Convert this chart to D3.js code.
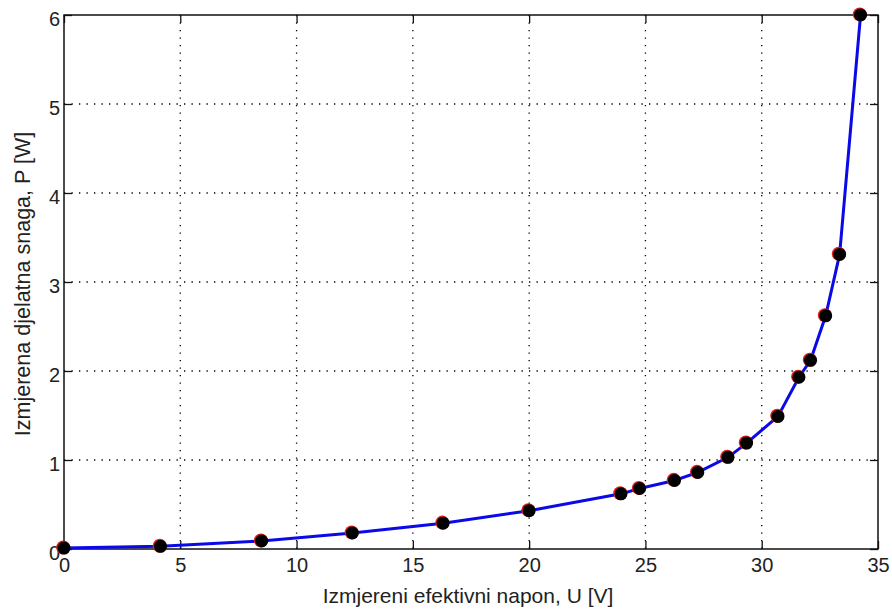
<!DOCTYPE html>
<html>
<head>
<meta charset="utf-8">
<script src="https://cdn.jsdelivr.net/npm/d3@7"></script>
<style>
  html, body { margin: 0; padding: 0; background: #fff; overflow: hidden; }
  svg { display: block; }
  text { font-family: "Liberation Sans", Arial, sans-serif; fill: #222; }
</style>
</head>
<body>
<svg id="chart" width="892" height="615"></svg>
<script>
// measured voltage U [V] and active power P [W]
const napon = [0, 4.15, 8.5, 12.4, 16.3, 20.0, 23.95, 24.75, 26.25, 27.25, 28.55, 29.35, 30.7, 31.6, 32.1, 32.75, 33.35, 34.25];
const snaga = [0.01, 0.03, 0.09, 0.18, 0.29, 0.43, 0.62, 0.68, 0.77, 0.86, 1.03, 1.19, 1.49, 1.93, 2.12, 2.62, 3.31, 6.0];

const xTicks = [0, 5, 10, 15, 20, 25, 30, 35];
const yTicks = [0, 1, 2, 3, 4, 5, 6];

const xLabel = 'Izmjereni efektivni napon, U [V]';
const yLabel = 'Izmjerena djelatna snaga, P [W]';

const svg = d3.select('#chart');
const margin = {top: 15, right: 14, bottom: 66, left: 64};
const innerWidth = 892 - margin.left - margin.right;
const innerHeight = 615 - margin.top - margin.bottom;

const data = napon.map((u, i) => ({u: u, p: snaga[i]}));

const xScale = d3.scaleLinear().domain([0, 35]).range([0, innerWidth]);
const yScale = d3.scaleLinear().domain([0, 6]).range([innerHeight, 0]);

const g = svg.append('g')
    .attr('transform', `translate(${margin.left},${margin.top})`);

// dotted grid
g.append('g').selectAll('line')
    .data(xTicks.slice(1, -1))
    .join('line')
    .attr('x1', d => xScale(d)).attr('x2', d => xScale(d))
    .attr('y1', 0).attr('y2', innerHeight)
    .attr('stroke', '#000').attr('stroke-width', 1.3)
    .attr('stroke-dasharray', '1.3,6.2');

g.append('g').selectAll('line')
    .data(yTicks.slice(1, -1))
    .join('line')
    .attr('y1', d => yScale(d)).attr('y2', d => yScale(d))
    .attr('x1', 0).attr('x2', innerWidth)
    .attr('stroke', '#000').attr('stroke-width', 1.3)
    .attr('stroke-dasharray', '1.3,6.2');

// axes with inward ticks
const tickLen = 8;
const fmt = d3.format('d');
const xAxisG = g.append('g')
    .attr('transform', `translate(0,${innerHeight})`)
    .call(d3.axisBottom(xScale).tickValues(xTicks).tickFormat(fmt)
        .tickSizeInner(-tickLen).tickSizeOuter(0).tickPadding(tickLen + 1));
const yAxisG = g.append('g')
    .call(d3.axisLeft(yScale).tickValues(yTicks).tickFormat(fmt)
        .tickSizeInner(-tickLen).tickSizeOuter(0).tickPadding(4));
g.append('g')
    .call(d3.axisTop(xScale).tickValues(xTicks).tickSizeInner(-tickLen).tickSizeOuter(0).tickFormat(''));
g.append('g')
    .attr('transform', `translate(${innerWidth},0)`)
    .call(d3.axisRight(yScale).tickValues(yTicks).tickSizeInner(-tickLen).tickSizeOuter(0).tickFormat(''));

g.selectAll('.domain').remove();
g.selectAll('.tick line').attr('stroke', '#111').attr('stroke-width', 1.3);
xAxisG.selectAll('text').style('font-size', '20px').attr('fill', '#222');
yAxisG.selectAll('text').style('font-size', '20px').attr('fill', '#222').attr('dy', '0.5em');

// box
g.append('rect')
    .attr('width', innerWidth).attr('height', innerHeight)
    .attr('fill', 'none').attr('stroke', '#111').attr('stroke-width', 1.5);

// line
const line = d3.line().x(d => xScale(d.u)).y(d => yScale(d.p));
g.append('path')
    .datum(data)
    .attr('d', line)
    .attr('fill', 'none')
    .attr('stroke', '#0a0ae8')
    .attr('stroke-width', 3);

// red markers under black dots
g.append('g').selectAll('circle')
    .data(data)
    .join('circle')
    .attr('cx', d => xScale(d.u) - 0.8).attr('cy', d => yScale(d.p) - 0.6)
    .attr('r', 7)
    .attr('fill', '#e02020');

g.append('g').selectAll('circle')
    .data(data)
    .join('circle')
    .attr('cx', d => xScale(d.u)).attr('cy', d => yScale(d.p))
    .attr('r', 6.5)
    .attr('fill', '#000');

// axis labels
svg.append('text')
    .attr('x', 468).attr('y', 603)
    .attr('text-anchor', 'middle')
    .style('font-size', '21px')
    .text(xLabel);

svg.append('text')
    .attr('transform', 'translate(30,284) rotate(-90)')
    .attr('text-anchor', 'middle')
    .style('font-size', '21.5px')
    .text(yLabel);
</script>
</body>
</html>
